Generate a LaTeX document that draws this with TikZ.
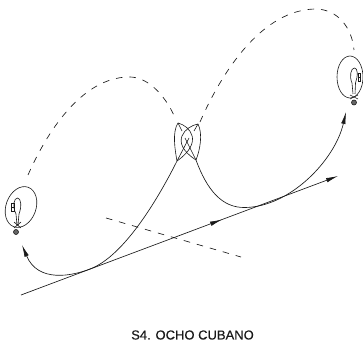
\documentclass[tikz,border=0pt]{standalone}
\usepackage{fontspec}
\setmainfont{Liberation Sans}
\newfontfamily\capfont[FakeBold=0.35]{Liberation Sans}
\usetikzlibrary{arrows.meta,decorations.markings}
\tikzset{
 line/.style={draw=black!90,line width=0.65pt},
 thin line/.style={draw=black!90,line width=0.6pt},
 dash line/.style={draw=black!90,line width=0.65pt,dash pattern=on 6.5pt off 7pt},
 tip/.style={-{Latex[length=12pt,width=4.5pt]}},
 midtip/.style={postaction={decorate},decoration={markings,mark=at position #1 with {\arrow{Latex[length=12pt,width=4.5pt]}}}}
}
\begin{document}
\begin{tikzpicture}[x=1pt,y=-1pt]
\useasboundingbox (0,0) rectangle (363,344);
\coordinate (mainS) at (21,295);
\coordinate (mainE) at (338,176);
\coordinate (dashA) at (106,218);
\coordinate (dashB) at (241,257);
\draw[line,tip,midtip=0.634] (mainS) -- (mainE);
\draw[dash line] (dashA) -- (dashB);
% solid curves
\draw[line,tip] (177,161) .. controls (160,195) and (125,256) .. (90,269)
  .. controls (72,276) and (38,283) .. (22,245);
\draw[line,tip] (196,160) .. controls (207,190) and (222,208) .. (245,207.5)
  .. controls (290,207) and (335,160) .. (346,112);
% dashed loops
\draw[dash line] (28,175) .. controls (50,125) and (85,78) .. (128,77)
  .. controls (150,76) and (168,100) .. (176,120);
\draw[dash line] (200,122) .. controls (225,65) and (265,10) .. (315,9)
  .. controls (338,9) and (352,28) .. (354,50);
% knot
\draw[thin line] (178,123) .. controls (172,132) and (175,150) .. (177,161);
\draw[thin line] (198,124) .. controls (203,134) and (200,150) .. (196,160);
\draw[thin line] (178,123) .. controls (190,126) and (204,142) .. (177,161);
\draw[thin line] (198,124) .. controls (186,126) and (168,142) .. (196,160);
\draw[thin line] (185,138) -- (196,160);
\draw[thin line] (189,138) -- (177,161);
\draw[thin line] (178,123) -- (182,131);
\draw[thin line] (198,124) -- (194,131);
% left figure
\draw[thin line,rotate around={-20:(21,207)}] (21,207) ellipse (15 and 21);
\draw[thin line] (17,225) -- (16,214) .. controls (12,206) and (14,198) .. (17.5,198) .. controls (21,198) and (22,206) .. (19,214) -- (18,225);
\draw[thin line] (11,203) -- (11,211) -- (14,211) -- (14,203) -- cycle (11,207) -- (14,207);
\draw[thin line] (14,222) -- (21,228) (21,222) -- (14,228);
\draw[thin line,fill=black!60] (16,232) circle (2.5);
% right figure
\draw[thin line] (350,77) ellipse (13 and 21);
\draw[thin line] (353,94) -- (352,83) .. controls (349,76) and (351,68) .. (354.5,68) .. controls (358,68) and (358,76) .. (355.5,83) -- (355,94);
\draw[thin line] (358,73) -- (358,81) -- (360.5,81) -- (360.5,73) -- cycle (358,77) -- (360.5,77);
\draw[thin line] (350,95) -- (358,99) (358,95) -- (350,99);
\draw[thin line,fill=black!60] (354,102.5) circle (2.5);
% caption
\node[font=\capfont\fontsize{13}{15}\selectfont,text=black!90,inner sep=0pt] (cap) at (192.5,335) {S4. OCHO CUBANO};
\end{tikzpicture}
\end{document}
